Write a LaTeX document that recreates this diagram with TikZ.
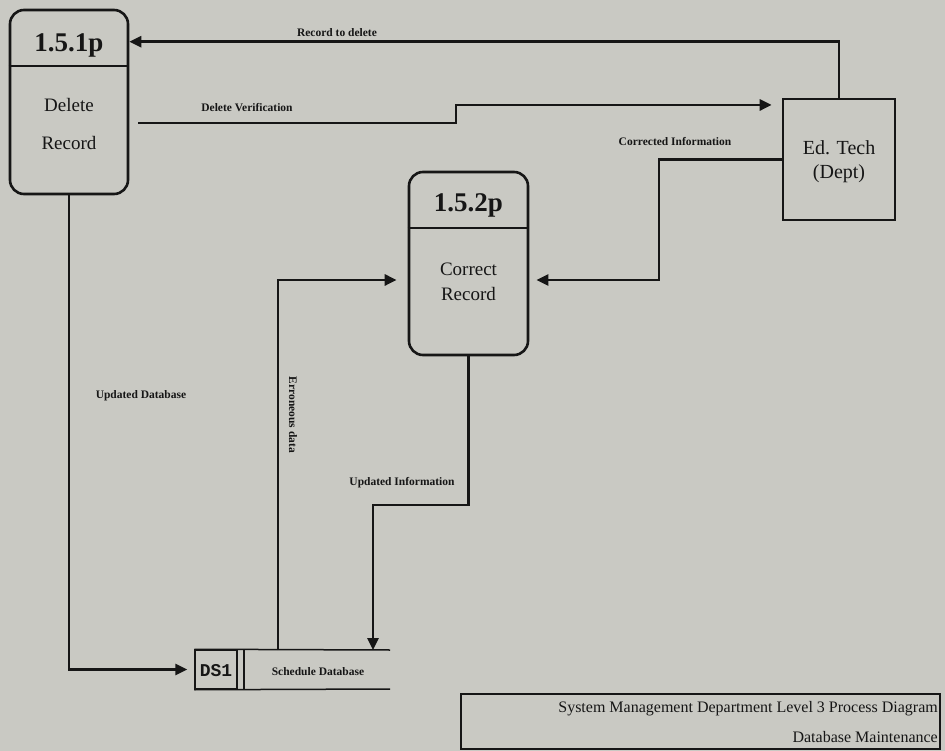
\documentclass[tikz,border=0pt]{standalone}
\usepackage{fontspec}
\setmainfont{Liberation Serif}
\setmonofont{Liberation Mono}
\usetikzlibrary{arrows.meta}
\definecolor{bg}{RGB}{201,201,195}
\definecolor{ink}{RGB}{22,22,22}
\tikzset{
  proc/.style={draw=ink, line width=2.6pt, rounded corners=14pt, minimum width=#1, inner sep=0pt},
  ext/.style={draw=ink, line width=2.6pt, inner sep=0pt},
  flow/.style={draw=ink, line width=2.6pt, -{Triangle[length=12pt,width=11pt]}},
  plain/.style={draw=ink, line width=2.6pt},
  flabel/.style={font=\fontsize{11.5}{13}\selectfont\bfseries, text=ink, inner sep=0pt},
  ptitle/.style={font=\fontsize{27}{30}\selectfont\bfseries, text=ink, inner sep=0pt},
  pbody/.style={font=\fontsize{19}{22}\selectfont, text=ink, inner sep=0pt},
  store/.style={draw=ink, line width=1.5pt, inner sep=0pt},
  ttext/.style={font=\fontsize{16}{18}\selectfont, text=ink, inner sep=0pt, anchor=east}
}
\begin{document}
\begin{tikzpicture}[x=1pt,y=-1pt]
\fill[bg] (0,0) rectangle (945,751);
\useasboundingbox (0,0) rectangle (945,751);

% processes
\node[proc=118pt, minimum height=184pt] (p1) at (69,102) {};
\draw[plain] (p1.west |- 0,66) -- (p1.east |- 0,66);
\node[ptitle] (p1t) at (69,45) {1.5.1p};
\node[pbody] (p1a) at (69,105) {Delete};
\node[pbody] (p1b) at (69,143) {Record};

\node[proc=119pt, minimum height=183pt] (p2) at (468.5,263.5) {};
\draw[plain] (p2.west |- 0,228) -- (p2.east |- 0,228);
\node[ptitle] (p2t) at (468.5,205) {1.5.2p};
\node[pbody] (p2a) at (468.5,269) {Correct};
\node[pbody] (p2b) at (468.5,294) {Record};

% external entity
\node[ext, minimum width=112pt, minimum height=121pt] (ed) at (839,159.5) {};
\node[font=\fontsize{20}{22}\selectfont, text=ink, inner sep=0pt] (eda) at (839,148) {Ed. Tech};
\node[font=\fontsize{20}{22}\selectfont, text=ink, inner sep=0pt] (edb) at (839,174) {(Dept)};

% data store
\node[store, minimum width=42pt, minimum height=39pt] (ds) at (216,669.5) {};
\node[font=\fontsize{18}{20}\selectfont\ttfamily\bfseries, text=ink, inner sep=0pt] (dst) at (216,671) {DS1};
\coordinate (dsTR) at (390,650);
\coordinate (dsBR) at (390,689);
\draw[store] (ds.north west) -- (dsTR);
\draw[store] (ds.south west) -- (dsBR);
\draw[store] (244,650) -- (244,689);
\node[flabel] (sdb) at (318,672) {Schedule Database};

% flows
\draw[flow] (ed.north) |- ([yshift=-33pt]p1.north east);
\node[flabel] (l1) at (337,33) {Record to delete};

\coordinate (dv0) at (138,123);
\draw[flow, shorten >=10pt] (dv0) -- (456,123) |- ([yshift=54.5pt]ed.west);
\node[flabel] (l2) at (247,108) {Delete Verification};

\draw[flow, shorten >=7pt] (ed.west) -| (659,280) -- ([yshift=-16.5pt]p2.east);
\node[flabel] (l3) at (675,142) {Corrected Information};

\coordinate (er0) at (278,650);
\draw[flow, shorten >=11pt] (er0) |- ([yshift=-16.5pt]p2.west);
\node[flabel, rotate=-90] (l4) at (293,415) {Erroneous data};

\coordinate (ui0) at (373,650);
\draw[flow] (p2.south) -- (468.5,505) -| (ui0);
\node[flabel] (l5) at (402,483) {Updated Information};

\draw[flow, shorten >=7pt] (p1.south) |- (ds.west);
\node[flabel] (l6) at (141,396) {Updated Database};

% title block
\node[draw=ink, line width=1.3pt, minimum width=479pt, minimum height=55pt, inner sep=0pt] (tb) at (700.5,721.5) {};
\node[ttext] (tb1) at (938,709) {System Management Department Level 3 Process Diagram};
\node[ttext] (tb2) at (938,737) {Database Maintenance};
\end{tikzpicture}
\end{document}
